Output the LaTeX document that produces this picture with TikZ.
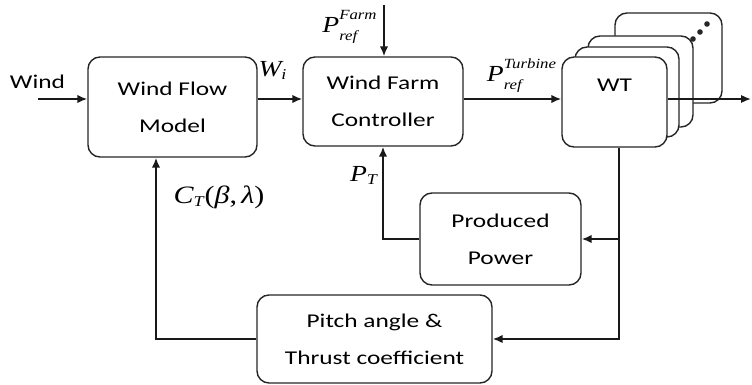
\documentclass[tikz,border=0pt]{standalone}
\usepackage{fontspec}
\setmainfont[FakeStretch=1.3]{Carlito}
\newfontfamily\tms[FakeStretch=1.2]{Liberation Serif}
\usetikzlibrary{arrows.meta,calc}

% symbols with super- and subscript
\newcommand{\symb}[3]{$\mbox{\fontsize{11.5}{12}\selectfont\tms\itshape #1}^{\raisebox{1.5pt}{\fontsize{7}{8}\selectfont\tms\itshape #2}}_{\raisebox{-1.5pt}{\fontsize{7}{8}\selectfont\tms\itshape #3}}$}
\newcommand{\symsub}[2]{$\mbox{\fontsize{11.5}{12}\selectfont\tms\itshape #1}_{\mbox{\fontsize{7.5}{8}\selectfont\tms\itshape #2}}$}

\begin{document}
\begin{tikzpicture}[x=0.5pt, y=-0.5pt,
    block/.style={draw=black!85, rounded corners=6pt, line width=0.7pt, fill=white,
      align=center, inner sep=0pt, font=\fontsize{9.75}{18.5}\selectfont},
    arr/.style={draw=black!90, line width=0.9pt, -{Latex[length=5pt,width=4.2pt]}},
    lbl/.style={inner sep=0pt, font=\fontsize{9.75}{12}\selectfont}]

    \useasboundingbox (0,0) rectangle (752,385);

    % Blöcke
    \node[block, minimum width=84.5pt, minimum height=50pt] (flow) at (172.5,107) {Wind Flow\\Model};
    \node[block, minimum width=80pt, minimum height=44.5pt] (ctrl) at (383,101.5) {Wind Farm\\Controller};

    % Turbinen (hinten nach vorne)
    \node[block, minimum width=53.5pt, minimum height=45pt] (wtD) at (668.5,58) {};
    \node[block, minimum width=52.5pt, minimum height=45.5pt] (wtC) at (640.5,81.5) {};
    \node[block, minimum width=52pt, minimum height=45pt] (wtB) at (627,92) {};
    \node[block, minimum width=52.5pt, minimum height=45pt,
      label={[lbl, anchor=center, yshift=-14.5pt]north:WT}] (wtA) at (614.5,102) {};
    \fill[black!85] (693,39) circle (1.4pt);
    \fill[black!85] (700,32) circle (1.4pt);
    \fill[black!85] (707,24) circle (1.4pt);

    \node[block, minimum width=80.5pt, minimum height=46pt] (power) at (500.5,239) {Produced\\Power};
    \node[block, minimum width=117.5pt, minimum height=44pt] (pitch) at (374.5,339) {Pitch angle \&\\Thrust coefficient};

    % Hilfspunkte
    \coordinate (windin) at (38,99);
    \coordinate (farmin) at (384,5);
    \coordinate (out) at (751,99);
    \coordinate (tap) at ([xshift=2.25pt]wtA.south);
    \coordinate (ctin) at ([xshift=-8.25pt]flow.south);

    % Verbindungen
    \draw[arr] (windin) -- (windin -| flow.west);
    \draw[arr] (flow.east |- windin) -- (ctrl.west |- windin);
    \draw[arr] (farmin) -- (farmin |- ctrl.north);
    \draw[arr] (ctrl.east |- windin) -- (wtA.west |- windin);
    \draw[arr] (wtA.east |- windin) -- (out);
    \draw[arr] (tap) |- (power.east);
    \draw[arr] (tap) |- (pitch.east);
    \draw[arr] (power.west) -| (ctrl.south);
    \draw[arr] (pitch.west) -| (ctin);

    % Beschriftungen
    \node[lbl] (windlbl) at (37.5,82) {Wind};
    \node[lbl] (wilbl) at (273,70) {\symsub{W}{i}};
    \node[lbl] (farmlbl) at (350,27) {\symb{P}{Farm}{ref}};
    \node[lbl] (turblbl) at (522,76) {\symb{P}{Turbine}{ref}};
    \node[lbl] (ptlbl) at (364,175) {\symsub{P}{T}};
    \node[lbl] (ctlbl) at (219,197) {$\mbox{\fontsize{12.5}{14}\selectfont\tms\itshape C}_{\mbox{\fontsize{7.5}{8}\selectfont\tms\itshape T}}\mbox{\fontsize{12.5}{14}\selectfont\tms(\textit{β},\,\textit{λ})}$};

\end{tikzpicture}
\end{document}
